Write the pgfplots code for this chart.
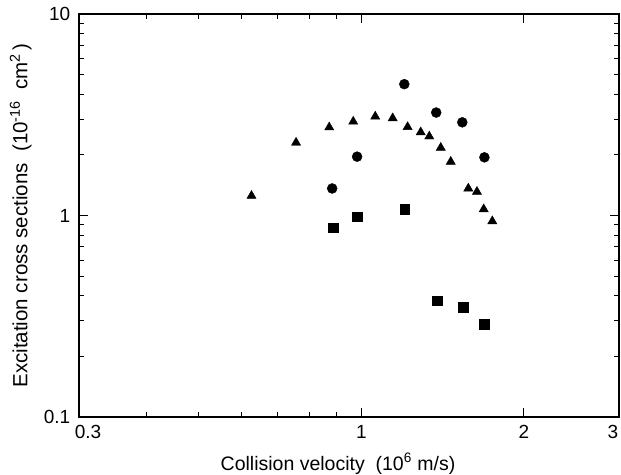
\documentclass[border=0pt]{standalone}
\usepackage{pgfplots}
\pgfplotsset{compat=1.18}
\usepackage{fontspec}
\setmainfont{Liberation Sans}
\begin{document}
\fontsize{19.5bp}{23bp}\selectfont
\begin{tikzpicture}
\begin{axis}[
  at={(0,0)}, anchor=south west,
  scale only axis,
  width=540bp, height=403bp,
  xmode=log, ymode=log,
  xmin=0.3, xmax=3, ymin=0.1, ymax=10,
  xtick={0.3,1,2,3},
  xticklabels={\raisebox{-12bp}{\hspace*{18bp}0.3},1,2,\raisebox{3bp}{3\hspace*{12bp}}},
  minor xtick={0.4,0.5,0.6,0.7,0.8,0.9},
  ytick={0.1,1,10}, yticklabels={0.1,1,10},
  minor ytick={0.2,0.3,0.4,0.5,0.6,0.7,0.8,0.9,2,3,4,5,6,7,8,9},
  tick align=inside,
  major tick length=9bp, minor tick length=5bp,
  axis line style={line width=1.1pt},
  every tick/.style={black, line width=0.8pt},
  /pgf/number format/assume math mode=true,
  xlabel={Collision velocity\ \ (10\textsuperscript{6} m/s)},
  ylabel={Excitation cross sections\ \ (10\textsuperscript{-16}\ \ cm\textsuperscript{2}\,)},
  xlabel style={yshift=2bp, xshift=-11bp, font=\fontsize{19.5bp}{23bp}\selectfont},
  ylabel style={yshift=-1bp, font=\fontsize{20.5bp}{24bp}\selectfont},
  xticklabel style={yshift=-2bp},
  yticklabel style={xshift=-2bp},
  tick label style={font=\fontsize{19bp}{22bp}\selectfont},
]
\addplot[only marks, mark=triangle*, mark size=5.3bp, black] coordinates {
 (0.626,1.253) (0.757,2.30) (0.872,2.74) (0.966,2.925) (1.061,3.10)
 (1.143,3.04) (1.218,2.75) (1.288,2.59) (1.336,2.47) (1.403,2.17)
 (1.464,1.85) (1.578,1.362) (1.637,1.312) (1.685,1.075) (1.748,0.937)
};
\addplot[only marks, mark=*, mark size=5bp, black] coordinates {
 (0.883,1.362) (0.982,1.959) (1.201,4.485) (1.376,3.243) (1.538,2.90) (1.690,1.944)
};
\addplot[only marks, mark=square*, mark size=4.8bp, black] coordinates {
 (0.886,0.869) (0.983,0.985) (1.202,1.075) (1.381,0.3777) (1.543,0.3513) (1.690,0.289)
};
\end{axis}
\pgfresetboundingbox
\useasboundingbox (-79bp,-58bp) rectangle (542bp,417bp);
\end{tikzpicture}
\end{document}
